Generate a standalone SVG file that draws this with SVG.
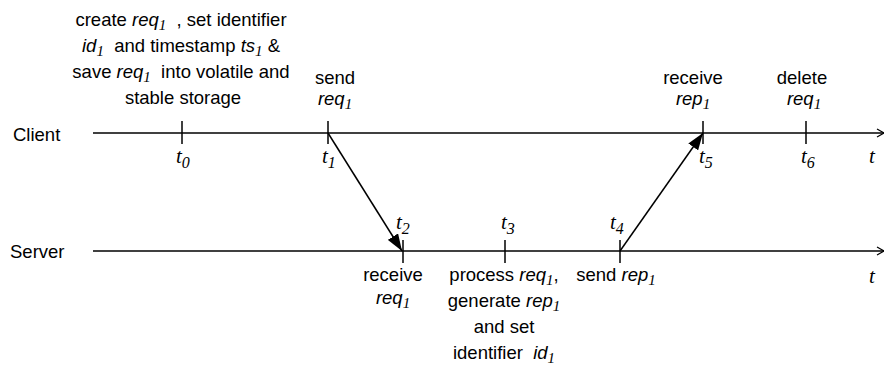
<svg xmlns="http://www.w3.org/2000/svg" width="884" height="365" viewBox="0 0 884 365">
<defs>
<style>
text{font-family:"Liberation Sans",Arial,sans-serif;font-size:18.5px;fill:#000;white-space:pre}
.m{text-anchor:middle}
.i{font-style:italic}
.s{font-family:"Liberation Serif","Times New Roman",serif;font-style:italic;font-size:15px}
.t{font-family:"Liberation Serif","Times New Roman",serif;font-style:italic;font-size:21px}
.ts{font-size:16px}
line{stroke:#000;stroke-width:1.5}
.ln{stroke-width:1.3}
</style>
<marker id="ah" viewBox="0 0 17 12" refX="17" refY="6" markerWidth="17" markerHeight="12" markerUnits="userSpaceOnUse" orient="auto">
<path d="M0,0 L17,6 L0,12 z" fill="#000"/>
</marker>
</defs>
<g id="client">
<text x="13" y="141">Client</text>
<line class="ln" x1="93" y1="133" x2="884" y2="133"/>
<path d="M877,129 L884,133 L877,137" fill="none" stroke="#000" stroke-width="1.2"/>
<text class="t" x="869" y="163">t</text>
</g>
<g id="server">
<text x="10" y="258">Server</text>
<line class="ln" x1="93" y1="251" x2="884" y2="251"/>
<path d="M877,247 L884,251 L877,255" fill="none" stroke="#000" stroke-width="1.2"/>
<text class="t" x="869" y="283">t</text>
</g>
<g id="t0">
<line x1="182" y1="121" x2="182" y2="144"/>
<text class="t" x="176" y="163">t<tspan class="ts" dy="5">0</tspan></text>
<text class="m" x="181" y="26" xml:space="preserve">create <tspan class="i">req</tspan><tspan class="s" dy="4">1</tspan><tspan dy="-4">  , set identifier</tspan></text>
<text class="m" x="181" y="52" xml:space="preserve"><tspan class="i">id</tspan><tspan class="s" dy="4">1</tspan><tspan dy="-4">  and timestamp </tspan><tspan class="i">ts</tspan><tspan class="s" dy="4">1</tspan><tspan dy="-4"> &amp;</tspan></text>
<text class="m" x="181" y="78" xml:space="preserve">save <tspan class="i">req</tspan><tspan class="s" dy="4">1</tspan><tspan dy="-4">  into volatile and</tspan></text>
<text class="m" x="183" y="104">stable storage</text>
</g>
<g id="t1">
<line x1="328" y1="121" x2="328" y2="144"/>
<text class="t" x="322" y="163">t<tspan class="ts" dy="5">1</tspan></text>
<text class="m" x="335" y="84">send</text>
<text class="m" x="335" y="105"><tspan class="i">req</tspan><tspan class="s" dy="4">1</tspan></text>
</g>
<g id="t2">
<line x1="403" y1="240" x2="403" y2="263"/>
<text class="t" x="396" y="229">t<tspan class="ts" dy="5">2</tspan></text>
<text class="m" x="393" y="281">receive</text>
<text class="m" x="393" y="304"><tspan class="i">req</tspan><tspan class="s" dy="4">1</tspan></text>
</g>
<g id="t3">
<line x1="505" y1="240" x2="505" y2="263"/>
<text class="t" x="501" y="229">t<tspan class="ts" dy="5">3</tspan></text>
<text class="m" x="504" y="281">process <tspan class="i">req</tspan><tspan class="s" dy="4">1</tspan><tspan dy="-4">,</tspan></text>
<text class="m" x="504" y="307">generate <tspan class="i">rep</tspan><tspan class="s" dy="4">1</tspan></text>
<text class="m" x="504" y="333">and set</text>
<text class="m" x="504" y="359" xml:space="preserve">identifier  <tspan class="i">id</tspan><tspan class="s" dy="4">1</tspan></text>
</g>
<g id="t4">
<line x1="620" y1="240" x2="620" y2="263"/>
<text class="t" x="610" y="229">t<tspan class="ts" dy="5">4</tspan></text>
<text class="m" x="616" y="281">send <tspan class="i">rep</tspan><tspan class="s" dy="4">1</tspan></text>
</g>
<g id="t5">
<line x1="703" y1="121" x2="703" y2="144"/>
<text class="t" x="699" y="163">t<tspan class="ts" dy="5">5</tspan></text>
<text class="m" x="693" y="84">receive</text>
<text class="m" x="693" y="105"><tspan class="i">rep</tspan><tspan class="s" dy="4">1</tspan></text>
</g>
<g id="t6">
<line x1="806" y1="121" x2="806" y2="144"/>
<text class="t" x="801" y="163">t<tspan class="ts" dy="5">6</tspan></text>
<text class="m" x="802" y="84">delete</text>
<text class="m" x="804" y="105"><tspan class="i">req</tspan><tspan class="s" dy="4">1</tspan></text>
</g>
<g id="connectors">
<line x1="328" y1="133" x2="402" y2="251" stroke-width="1.3" marker-end="url(#ah)"/>
<line x1="620" y1="251" x2="703" y2="133" stroke-width="1.3" marker-end="url(#ah)"/>
</g>
</svg>
